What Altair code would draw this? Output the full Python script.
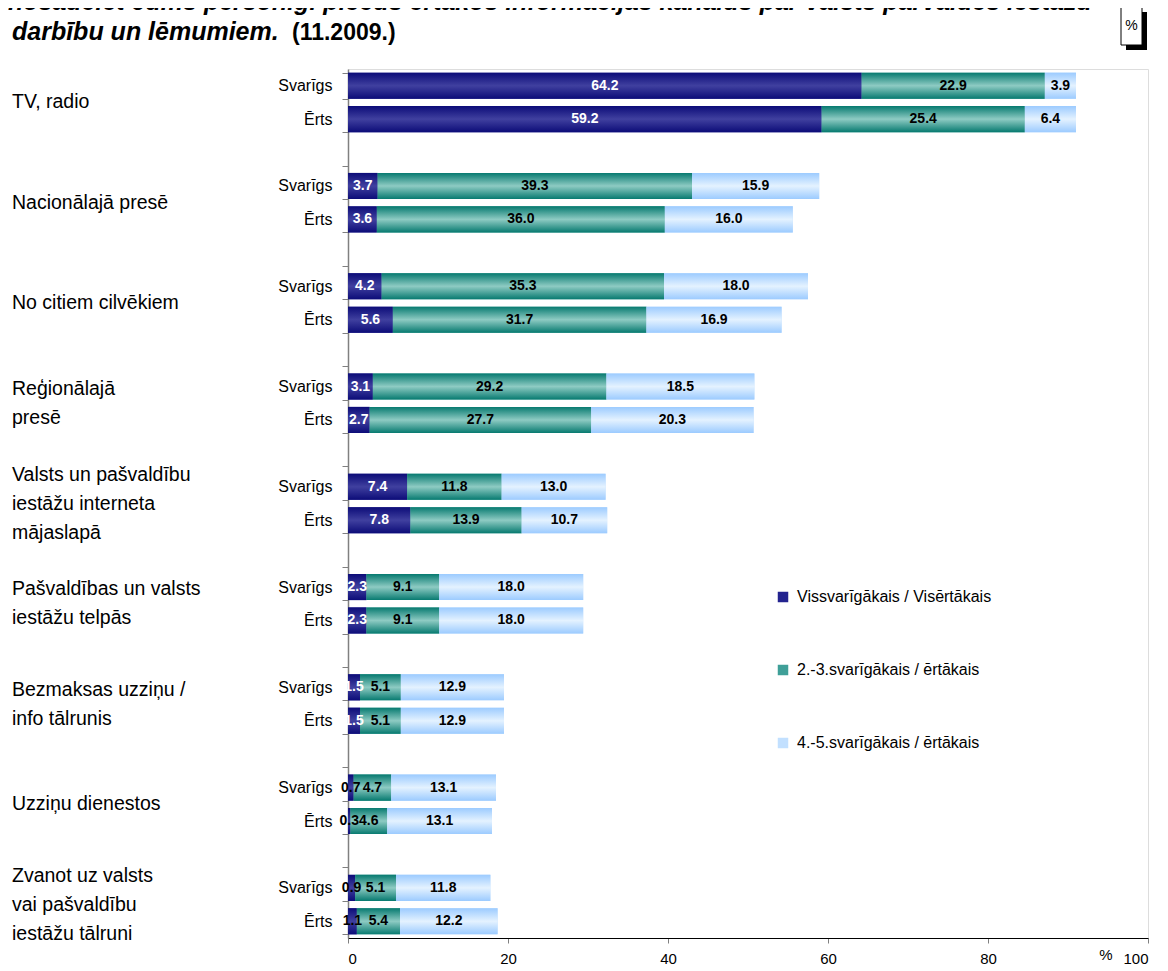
import altair as alt
import pandas as pd

FONT = "Liberation Sans"

groups = [
    "TV, radio",
    "Nacionālajā presē",
    "No citiem cilvēkiem",
    "Reģionālajā\npresē",
    "Valsts un pašvaldību\niestāžu interneta\nmājaslapā",
    "Pašvaldības un valsts\niestāžu telpās",
    "Bezmaksas uzziņu /\ninfo tālrunis",
    "Uzziņu dienestos",
    "Zvanot uz valsts\nvai pašvaldību\niestāžu tālruni",
]
sub_labels = ["Svarīgs", "Ērts"]
segments = [
    "Vissvarīgākais / Visērtākais",
    "2.-3.svarīgākais / ērtākais",
    "4.-5.svarīgākais / ērtākais",
]

first_svarigs = [64.2, 3.7, 4.2, 3.1, 7.4, 2.3, 1.5, 0.7, 0.9]
second_svarigs = [22.9, 39.3, 35.3, 29.2, 11.8, 9.1, 5.1, 4.7, 5.1]
third_svarigs = [3.9, 15.9, 18.0, 18.5, 13.0, 18.0, 12.9, 13.1, 11.8]
first_erts = [59.2, 3.6, 5.6, 2.7, 7.8, 2.3, 1.5, 0.3, 1.1]
second_erts = [25.4, 36.0, 31.7, 27.7, 13.9, 9.1, 5.1, 4.6, 5.4]
third_erts = [6.4, 16.0, 16.9, 20.3, 10.7, 18.0, 12.9, 13.1, 12.2]

x_ticks = [0, 20, 40, 60, 80, 100]

title_line1 = "nosauciet Jums personīgi piecus ērtākos informācijas kanālus par valsts pārvaldes iestāžu"
title_line2 = "darbību un lēmumiem."
title_date = "(11.2009.)"

# ---- build tables ----
row_keys = []
for i in range(len(groups)):
    row_keys.append(f"{i}|Svarīgs")
    row_keys.append(f"{i}|Ērts")
    if i < len(groups) - 1:
        row_keys.append(f"{i}|")

records = []
series = {
    "Svarīgs": [first_svarigs, second_svarigs, third_svarigs],
    "Ērts": [first_erts, second_erts, third_erts],
}
for i in range(len(groups)):
    for sub in sub_labels:
        for k, seg in enumerate(segments):
            records.append({
                "row": f"{i}|{sub}",
                "seg": seg,
                "order": k,
                "value": series[sub][k][i],
            })
df = pd.DataFrame(records)

glabels = pd.DataFrame({"row": [f"{i}|Svarīgs" for i in range(len(groups))], "label": groups})
glabels["n"] = glabels["label"].str.count("\n") + 1

seg_colors = ["#23238f", "#3f9f98", "#c2e0ff"]
gradients = [
    ["#0c0c78", "#40409f", "#0c0c78"],
    ["#077a70", "#8ecbc3", "#077a70"],
    ["#9ccbff", "#e4f2ff", "#9ccbff"],
]

step = 869 / 26
LINE_H = 29

y_enc = alt.Y(
    "row:N",
    sort=None,
    scale=alt.Scale(domain=row_keys, paddingInner=0.22, paddingOuter=0.11),
    axis=alt.Axis(
        title=None,
        labelExpr="split(datum.value, '|')[1]",
        labelFontSize=16,
        labelColor="black",
        labelPadding=10,
        tickBand="extent",
        tickSize=6,
        tickColor="#808080",
        domainColor="#808080",
        domainWidth=1.5,
        labelFont=FONT,
    ),
)
x_enc = alt.X(
    "x0:Q",
    scale=alt.Scale(domain=[0, 100], nice=False),
    axis=alt.Axis(
        title=None,
        values=x_ticks,
        grid=False,
        labelFontSize=15,
        labelColor="black",
        domainColor="black",
        tickColor="#808080",
        tickSize=5,
        labelPadding=8,
        labelFont=FONT,
    ),
)

base = alt.Chart(df).transform_stack(
    stack="value", groupby=["row"], as_=["x0", "x1"], sort=[alt.SortField("order")]
)

solid = base.mark_bar().encode(
    x=x_enc,
    x2="x1:Q",
    y=y_enc,
    color=alt.Color(
        "seg:N",
        scale=alt.Scale(domain=segments, range=seg_colors),
        legend=alt.Legend(
            title=None,
            orient="none",
            legendX=427,
            legendY=520,
            symbolType="square",
            symbolSize=110,
            symbolStrokeWidth=0,
            labelFontSize=16,
            labelFont=FONT,
            labelColor="black",
            labelLimit=0,
            rowPadding=57,
            labelOffset=6,
        ),
    ),
)

grad_layers = []
for k, seg in enumerate(segments):
    g = alt.LinearGradient(
        gradient="linear",
        x1=0, x2=0, y1=0, y2=1,
        stops=[
            alt.GradientStop(offset=0, color=gradients[k][0]),
            alt.GradientStop(offset=0.5, color=gradients[k][1]),
            alt.GradientStop(offset=1, color=gradients[k][2]),
        ],
    )
    grad_layers.append(
        base.transform_filter(alt.datum.seg == seg).mark_bar(fill=g).encode(
            x="x0:Q", x2="x1:Q", y="row:N"
        )
    )

labels = base.transform_calculate(mid="(datum.x0 + datum.x1) / 2").mark_text(
    font=FONT, fontWeight="bold", fontSize=14
).encode(
    x="mid:Q",
    y="row:N",
    text=alt.Text("value:Q", format=".1f"),
    color=alt.when((alt.datum.order == 0) & (alt.datum.value >= 1.5))
    .then(alt.value("white"))
    .otherwise(alt.value("black")),
)

group_layers = []
for n in (1, 2, 3):
    group_layers.append(
        alt.Chart(glabels).transform_filter(alt.datum.n == n).mark_text(
            align="left", baseline="middle", fontSize=19.5, font=FONT, lineBreak="\n",
            lineHeight=LINE_H, dy=step / 2 - (n - 1) * LINE_H / 2, color="black",
        ).encode(
            x=alt.value(-336),
            y="row:N",
            text="label:N",
        )
    )

one = alt.Data(values=[{"a": 1}])
t1 = alt.Chart(one).mark_text(
    align="left", baseline="alphabetic", fontSize=25, fontWeight="bold",
    fontStyle="italic", font=FONT, color="black",
).encode(x=alt.value(-340), y=alt.value(-59), text=alt.value(title_line1))
t2 = alt.Chart(one).mark_text(
    align="left", baseline="alphabetic", fontSize=25, fontWeight="bold",
    fontStyle="italic", font=FONT, color="black",
).encode(x=alt.value(-336), y=alt.value(-29), text=alt.value(title_line2))
t3 = alt.Chart(one).mark_text(
    align="left", baseline="alphabetic", fontSize=23, fontWeight="bold",
    font=FONT, color="black",
).encode(x=alt.value(-56), y=alt.value(-29), text=alt.value(title_date))

shadow = alt.Chart(one).mark_rect(color="black").encode(
    x=alt.value(778), x2=alt.value(799), y=alt.value(-57), y2=alt.value(-19)
)
box = alt.Chart(one).mark_rect(fill="white", stroke="black", strokeWidth=1).encode(
    x=alt.value(773), x2=alt.value(794), y=alt.value(-62), y2=alt.value(-24)
)
box_pct = alt.Chart(one).mark_text(
    fontSize=14, font=FONT, color="black", align="center", baseline="middle"
).encode(x=alt.value(783.5), y=alt.value(-43), text=alt.value("%"))
axis_pct = alt.Chart(one).mark_text(
    fontSize=15, font=FONT, color="black", align="center", baseline="middle"
).encode(x=alt.value(758), y=alt.value(886), text=alt.value("%"))

chart = alt.layer(
    solid, *grad_layers, labels, *group_layers, t1, t2, t3, shadow, box, box_pct, axis_pct
).properties(
    width=800,
    height=869,
    autosize=alt.AutoSizeParams(type="none"),
    padding={"left": 340, "top": 61, "right": 12, "bottom": 30},
).configure_view(stroke=None).configure(font=FONT)

chart.save("out.html", embed_options={"renderer": "svg", "actions": False})
